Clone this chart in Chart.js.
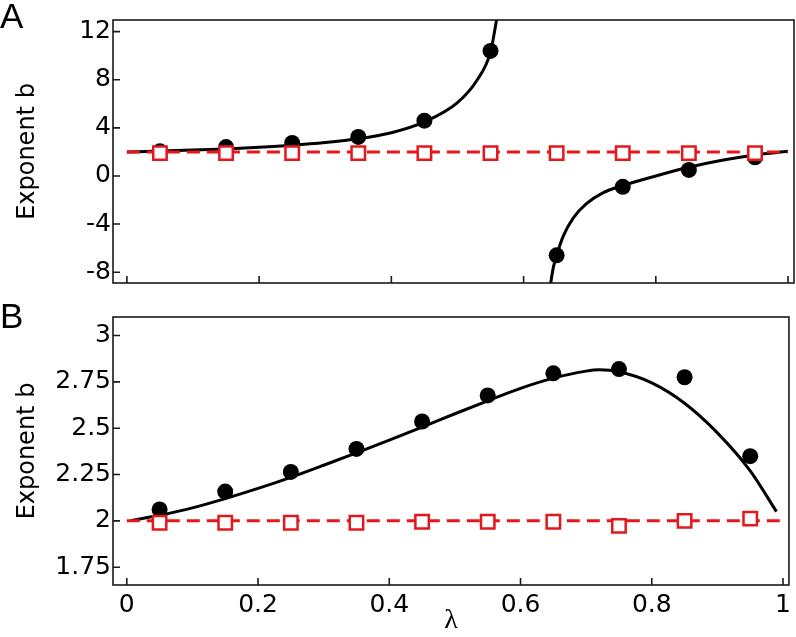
<!DOCTYPE html>
<html>
<head>
<meta charset="utf-8">
<script src="https://cdn.jsdelivr.net/npm/chart.js@4.4.1/dist/chart.umd.min.js"></script>
<style>
  body { margin: 0; background: #fff; }
  #wrap { position: relative; width: 796px; height: 637px; overflow: hidden; }
  canvas { position: absolute; left: 0; }
  .panel { position: absolute; left: 0; font: 35px "Liberation Sans", Arial, sans-serif; line-height: 35px; color: #000; }
</style>
</head>
<body>
<div id="wrap">
  <canvas id="chartA" width="796" height="300" style="top:0"></canvas>
  <canvas id="chartB" width="796" height="337" style="top:300px"></canvas>
  <div class="panel" style="top:-2px">A</div>
  <div class="panel" style="top:298px">B</div>
</div>
<script>
// measured lambda values
const lambdas = [0.05, 0.15, 0.25, 0.35, 0.45, 0.55, 0.65, 0.75, 0.85, 0.95];
const xTicks = [0, 0.2, 0.4, 0.6, 0.8, 1];

// panel A
const aDots = [2.05, 2.4, 2.75, 3.25, 4.6, 10.4, -6.6, -0.9, 0.5, 1.55];
const aSquares = [1.9, 1.9, 1.9, 1.9, 1.9, 1.9, 1.9, 1.9, 1.9, 1.9];
const aCurveLeftX = [0, 0.05, 0.1, 0.15, 0.2, 0.25, 0.3, 0.35, 0.4, 0.45, 0.5, 0.53, 0.55, 0.557, 0.562];
const aCurveLeftY = [2.0, 2.07, 2.15, 2.25, 2.38, 2.55, 2.78, 3.1, 3.6, 4.5, 6.1, 8.0, 10.3, 12.3, 14];
const aCurveRightX = [0.638, 0.645, 0.65, 0.66, 0.675, 0.695, 0.72, 0.75, 0.8, 0.85, 0.9, 0.95, 1.0];
const aCurveRightY = [-10, -7.6, -6.6, -5.0, -3.5, -2.3, -1.4, -0.8, 0.0, 0.72, 1.3, 1.75, 2.05];
const aTicks = [12, 8, 4, 0, -4, -8];

// panel B
const bDots = [2.062, 2.158, 2.264, 2.388, 2.536, 2.677, 2.796, 2.819, 2.775, 2.349];
const bSquares = [1.99, 1.99, 1.99, 1.99, 1.995, 1.995, 1.995, 1.973, 2.0, 2.012];
const bCurveX = [0.005, 0.05, 0.1, 0.15, 0.2, 0.25, 0.3, 0.35, 0.4, 0.45, 0.5, 0.55, 0.6, 0.65, 0.7, 0.72, 0.75, 0.8, 0.85, 0.9, 0.95, 0.99];
const bCurveY = [2.0, 2.03, 2.07, 2.12, 2.175, 2.235, 2.3, 2.367, 2.436, 2.506, 2.578, 2.648, 2.715, 2.77, 2.808, 2.815, 2.805, 2.745, 2.635, 2.475, 2.27, 2.05];
const bTicks = [3, 2.75, 2.5, 2.25, 2, 1.75];

const refLineX = [0, 1];
const refLineY = [2, 2];

const RED = '#e3171c';
const tickFont = { family: '"DejaVu Sans", sans-serif', size: 25 };
const titleFont = { family: '"DejaVu Sans", sans-serif', size: 24 };

const pts = (xs, ys) => xs.map((x, i) => ({ x: x, y: ys[i] }));

const framePlugin = {
  id: 'frame',
  afterDraw(chart) {
    const { ctx, chartArea: a, scales } = chart;
    ctx.save();
    ctx.strokeStyle = '#1a1a1a';
    ctx.lineWidth = 1.6;
    ctx.strokeRect(a.left, a.top, a.right - a.left, a.bottom - a.top);
    ctx.beginPath();
    scales.x.ticks.forEach(t => {
      const px = scales.x.getPixelForValue(t.value);
      ctx.moveTo(px, a.bottom);
      ctx.lineTo(px, a.bottom - 7);
    });
    scales.y.ticks.forEach(t => {
      const py = scales.y.getPixelForValue(t.value);
      ctx.moveTo(a.left, py);
      ctx.lineTo(a.left + 7, py);
    });
    ctx.stroke();
    ctx.restore();
  }
};

function curveSet(data) {
  return {
    data: data, showLine: true, borderColor: '#000', borderWidth: 3,
    pointRadius: 0, cubicInterpolationMode: 'monotone', fill: false
  };
}

function buildDatasets(dots, squares, curves) {
  const sets = [
    { data: pts(lambdas, squares), showLine: false, pointStyle: 'rect', pointRadius: 9.5,
      borderColor: RED, backgroundColor: '#fff', borderWidth: 2.5 },
    { data: pts(refLineX, refLineY), showLine: true, borderColor: RED, borderWidth: 3,
      borderDash: [13, 7], pointRadius: 0 },
    { data: pts(lambdas, dots), showLine: false, pointStyle: 'circle', pointRadius: 8,
      backgroundColor: '#000', borderColor: '#000', borderWidth: 0 }
  ];
  curves.forEach(c => sets.push(curveSet(c)));
  return sets;
}

function makeChart(id, datasets, yMin, yMax, yTicks, padTop, xHeight, showX) {
  return new Chart(document.getElementById(id), {
    type: 'scatter',
    data: { datasets: datasets },
    plugins: [framePlugin],
    options: {
      responsive: false,
      devicePixelRatio: 1,
      animation: false,
      layout: { autoPadding: false, padding: { left: 0, right: 2, top: padTop, bottom: 0 } },
      plugins: { legend: { display: false }, tooltip: { enabled: false } },
      scales: {
        x: {
          type: 'linear', min: -0.021, max: 1.009,
          afterBuildTicks: s => { s.ticks = xTicks.map(v => ({ value: v })); },
          afterFit: s => { s.height = xHeight; },
          grid: { display: false, drawTicks: false },
          border: { display: false },
          ticks: { display: showX, font: tickFont, color: '#000', padding: 5, maxRotation: 0,
                   callback: v => String(v) },
          title: { display: showX, text: 'λ', color: '#000', padding: { top: 5, bottom: 0 },
                   font: { family: '"Liberation Serif", serif', size: 28 } }
        },
        y: {
          type: 'linear', min: yMin, max: yMax,
          afterBuildTicks: s => { s.ticks = yTicks.map(v => ({ value: v })); },
          afterFit: s => { s.width = 113; },
          grid: { display: false, drawTicks: false },
          border: { display: false },
          ticks: { font: tickFont, color: '#000', padding: 2, callback: v => String(v) },
          title: { display: true, text: 'Exponent b', color: '#000', font: titleFont,
                   padding: { top: 13, bottom: 0 } }
        }
      }
    }
  });
}

makeChart('chartA',
  buildDatasets(aDots, aSquares, [pts(aCurveLeftX, aCurveLeftY), pts(aCurveRightX, aCurveRightY)]),
  -8.9, 12.97, aTicks, 20, 6, false);

makeChart('chartB',
  buildDatasets(bDots, bSquares, [pts(bCurveX, bCurveY)]),
  1.654, 3.1, bTicks, 12, 52, true);
</script>
</body>
</html>
